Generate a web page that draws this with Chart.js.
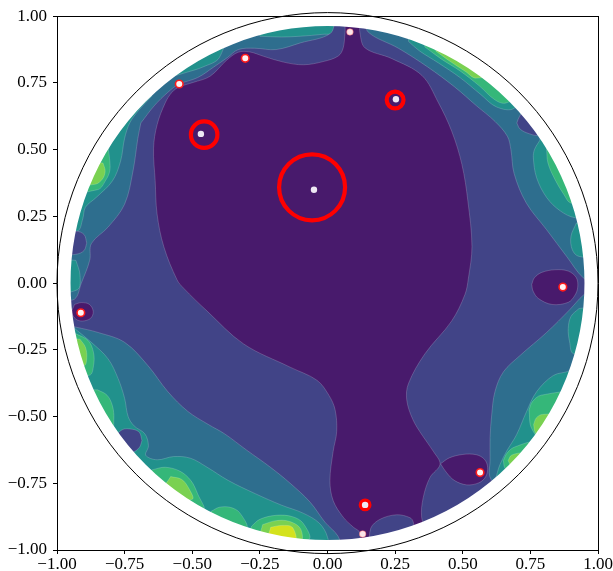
<!DOCTYPE html>
<html>
<head>
<meta charset="utf-8">
<script src="https://cdn.jsdelivr.net/npm/chart.js@4.4.1/dist/chart.umd.min.js"></script>
<style>
  html, body { margin: 0; padding: 0; background: #fff; }
  #wrap { width: 613px; height: 571px; }
</style>
</head>
<body>
<div id="wrap"><canvas id="chart"></canvas></div>
<script>
// axis ticks
const tickValues = [-1, -0.75, -0.5, -0.25, 0, 0.25, 0.5, 0.75, 1];
const tickLabels = ["−1.00", "−0.75", "−0.50", "−0.25", "0.00", "0.25", "0.50", "0.75", "1.00"];

// contour level colours (viridis), lowest level first
const levelColors = ["#481a6c", "#414487", "#2e6e8e", "#21918c", "#35b779", "#7ad151", "#d4e21d"];

// contour regions as [x, y] outlines
const baseSquare = [[-1, -1], [1, -1], [1, 1], [-1, 1], [-1, -1]];

const gtTop = [[-0.25, 0.925], [-0.17, 0.922], [-0.1, 0.925], [-0.02, 0.932], [0.04, 0.942], [0.05, 1.05], [-0.25, 1.05], [-0.25, 0.925]];
const gtTopLeft = [[-0.57, 0.775], [-0.52, 0.79], [-0.46, 0.81], [-0.4, 0.845], [-0.38, 0.95], [-0.6, 0.85], [-0.57, 0.775]];
const gtLeftUpper = [[-0.65, 0.7], [-0.7, 0.645], [-0.731, 0.6], [-0.75, 0.543], [-0.765, 0.457], [-0.795, 0.383], [-0.855, 0.321], [-0.895, 0.284], [-0.905, 0.24], [-0.925, 0.195], [-1.05, 0.19], [-1.05, 0.75], [-0.7, 0.76], [-0.65, 0.7]];
const gtLeftMid = [[-0.93, 0.085], [-0.915, 0.03], [-0.925, -0.025], [-1.05, -0.03], [-1.05, 0.09], [-0.93, 0.085]];
const gtLeftLower = [[-0.935, -0.17], [-0.873, -0.222], [-0.811, -0.284], [-0.774, -0.358], [-0.75, -0.432], [-0.737, -0.5], [-0.715, -0.535], [-0.675, -0.565], [-0.662, -0.61], [-0.672, -0.645], [-0.63, -0.662], [-0.569, -0.65], [-0.507, -0.656], [-0.445, -0.69], [-0.366, -0.74], [-0.267, -0.789], [-0.17, -0.832], [-0.09, -0.862], [-0.03, -0.9], [0.0, -0.952], [0.01, -1.05], [-1.05, -1.05], [-1.05, -0.17], [-0.935, -0.17]];
const gtTopRight = [[0.3, 0.905], [0.34, 0.87], [0.41, 0.825], [0.49, 0.77], [0.565, 0.708], [0.625, 0.66], [0.69, 0.655], [0.75, 0.75], [0.5, 1.05], [0.3, 1.05], [0.3, 0.905]];
const gtRightUpper = [[0.785, 0.535], [0.765, 0.5], [0.761, 0.469], [0.773, 0.395], [0.81, 0.321], [0.86, 0.271], [0.915, 0.245], [1.05, 0.24], [1.05, 0.6], [0.8, 0.6], [0.785, 0.535]];
const gtRightA = [[0.92, 0.225], [0.9, 0.175], [0.905, 0.125], [0.93, 0.1], [1.05, 0.1], [1.05, 0.25], [0.92, 0.225]];
const gtRightB = [[0.93, -0.095], [0.9, -0.125], [0.89, -0.17], [0.895, -0.22], [0.91, -0.265], [1.05, -0.27], [1.05, -0.09], [0.93, -0.095]];
const gtRightLower = [[0.905, -0.3], [0.896, -0.327], [0.835, -0.346], [0.773, -0.407], [0.736, -0.481], [0.699, -0.568], [0.662, -0.63], [0.638, -0.679], [0.628, -0.71], [0.62, -0.75], [0.65, -1.05], [1.05, -1.05], [1.05, -0.3], [0.905, -0.3]];

const greenTopRight = [[0.36, 0.885], [0.42, 0.84], [0.49, 0.795], [0.56, 0.74], [0.62, 0.686], [0.66, 0.675], [0.8, 0.75], [0.5, 1.0], [0.36, 1.0], [0.36, 0.885]];
const greenRightUpper = [[0.81, 0.5], [0.815, 0.45], [0.84, 0.39], [0.875, 0.33], [0.9, 0.3], [1.05, 0.29], [1.05, 0.55], [0.82, 0.55], [0.81, 0.5]];
const greenRightA = [[0.745, -0.475], [0.757, -0.445], [0.79, -0.42], [0.9, -0.42], [0.82, -0.62], [0.755, -0.545], [0.745, -0.475]];
const greenRightB = [[0.65, -0.665], [0.664, -0.637], [0.69, -0.615], [0.76, -0.6], [0.7, -0.73], [0.657, -0.695], [0.65, -0.665]];
const greenLeftA = [[-0.81, 0.5], [-0.805, 0.46], [-0.805, 0.42], [-0.82, 0.385], [-0.85, 0.35], [-1.05, 0.34], [-1.05, 0.55], [-0.8, 0.55], [-0.81, 0.5]];
const greenLeftB = [[-0.93, -0.19], [-0.885, -0.215], [-0.865, -0.26], [-0.865, -0.31], [-0.88, -0.345], [-1.05, -0.35], [-1.05, -0.19], [-0.93, -0.19]];
const greenLeftC = [[-0.85, -0.4], [-0.815, -0.42], [-0.795, -0.46], [-0.79, -0.51], [-0.8, -0.55], [-1.05, -0.55], [-1.05, -0.4], [-0.85, -0.4]];
const greenBottomA = [[-0.65, -0.7], [-0.6, -0.69], [-0.545, -0.705], [-0.505, -0.74], [-0.48, -0.79], [-0.46, -0.85], [-0.7, -0.8], [-0.65, -0.7]];
const greenBottomB = [[-0.43, -0.855], [-0.4, -0.84], [-0.36, -0.84], [-0.325, -0.86], [-0.3, -0.92], [-0.45, -0.92], [-0.43, -0.855]];
const greenBottomC = [[-0.28, -0.91], [-0.25, -0.885], [-0.19, -0.87], [-0.13, -0.875], [-0.09, -0.9], [-0.07, -0.96], [-0.3, -0.97], [-0.28, -0.91]];

const limeTopRight = [[0.4, 0.87], [0.45, 0.833], [0.51, 0.793], [0.55, 0.768], [0.65, 0.8], [0.45, 0.95], [0.4, 0.87]];
const limeRightA = [[0.762, -0.53], [0.772, -0.505], [0.795, -0.492], [0.85, -0.5], [0.8, -0.6], [0.768, -0.56], [0.762, -0.53]];
const limeRightB = [[0.668, -0.665], [0.68, -0.645], [0.72, -0.64], [0.69, -0.71], [0.668, -0.665]];
const limeLeftA = [[-0.83, 0.45], [-0.822, 0.42], [-0.832, 0.39], [-0.86, 0.37], [-1.0, 0.37], [-1.0, 0.46], [-0.83, 0.45]];
const limeLeftB = [[-0.915, -0.21], [-0.895, -0.24], [-0.89, -0.28], [-0.9, -0.31], [-1.0, -0.31], [-1.0, -0.21], [-0.915, -0.21]];
const limeBottomA = [[-0.58, -0.725], [-0.54, -0.735], [-0.515, -0.765], [-0.5, -0.81], [-0.62, -0.8], [-0.58, -0.725]];
const limeBottomC = [[-0.24, -0.905], [-0.19, -0.89], [-0.14, -0.893], [-0.1, -0.92], [-0.1, -0.97], [-0.25, -0.97], [-0.24, -0.905]];

const yellowBottomC = [[-0.21, -0.915], [-0.17, -0.908], [-0.13, -0.915], [-0.12, -0.97], [-0.22, -0.97], [-0.21, -0.915]];

const slateMain = [[-0.69, 0.6], [-0.64, 0.665], [-0.59, 0.715], [-0.55, 0.745], [-0.48, 0.77], [-0.42, 0.81], [-0.37, 0.845], [-0.33, 0.875], [-0.27, 0.88], [-0.19, 0.875], [-0.1, 0.9], [0.01, 0.935], [0.04, 1.0], [0.13, 1.0], [0.151, 0.94], [0.262, 0.88], [0.37, 0.81], [0.47, 0.735], [0.55, 0.665], [0.62, 0.605], [0.665, 0.55], [0.678, 0.5], [0.69, 0.41], [0.735, 0.3], [0.81, 0.2], [0.884, 0.1], [0.945, 0.02], [1.0, -0.01], [0.946, -0.045], [0.896, -0.099], [0.81, -0.185], [0.712, -0.271], [0.65, -0.333], [0.619, -0.407], [0.607, -0.494], [0.601, -0.58], [0.601, -0.667], [0.6, -0.725], [0.64, -0.8], [0.5, -1.05], [0.08, -1.05], [0.04, -0.95], [-0.01, -0.895], [-0.064, -0.821], [-0.138, -0.75], [-0.211, -0.69], [-0.3, -0.625], [-0.38, -0.565], [-0.44, -0.53], [-0.516, -0.481], [-0.59, -0.407], [-0.664, -0.309], [-0.75, -0.222], [-0.848, -0.185], [-0.93, -0.165], [-1.0, -0.15], [-1.0, -0.07], [-0.935, -0.06], [-0.91, 0.0], [-0.879, 0.086], [-0.873, 0.148], [-0.811, 0.21], [-0.75, 0.296], [-0.719, 0.42], [-0.701, 0.543], [-0.69, 0.6]];
const slateRightTop = [[0.7, 0.6], [0.71, 0.625], [0.74, 0.66], [0.82, 0.6], [0.78, 0.555], [0.745, 0.56], [0.712, 0.577], [0.7, 0.6]];
const slateLeft = [[-0.89, 0.15], [-0.9, 0.182], [-0.93, 0.195], [-1.0, 0.19], [-1.0, 0.11], [-0.93, 0.108], [-0.9, 0.122], [-0.89, 0.15]];
const slateLowerLeft = [[-0.686, -0.59], [-0.695, -0.56], [-0.72, -0.548], [-0.76, -0.55], [-0.8, -0.6], [-0.76, -0.645], [-0.72, -0.635], [-0.695, -0.615], [-0.686, -0.59]];

const purpleMain = [[0.065, 0.94], [0.07, 1.0], [0.115, 1.0], [0.12, 0.937], [0.139, 0.881], [0.238, 0.841], [0.349, 0.778], [0.409, 0.678], [0.46, 0.567], [0.497, 0.444], [0.519, 0.307], [0.534, 0.137], [0.521, 0.019], [0.508, -0.043], [0.459, -0.142], [0.36, -0.265], [0.299, -0.377], [0.293, -0.438], [0.315, -0.51], [0.35, -0.57], [0.391, -0.63], [0.416, -0.679], [0.379, -0.728], [0.354, -0.803], [0.348, -0.877], [0.37, -0.96], [0.33, -0.97], [0.317, -0.895], [0.305, -0.879], [0.256, -0.868], [0.194, -0.885], [0.16, -0.918], [0.15, -0.99], [0.12, -0.99], [0.12, -0.935], [0.095, -0.914], [0.058, -0.877], [0.021, -0.815], [0.009, -0.741], [0.021, -0.63], [0.034, -0.556], [0.028, -0.474], [0.005, -0.42], [-0.039, -0.364], [-0.138, -0.315], [-0.31, -0.228], [-0.445, -0.105], [-0.532, -0.019], [-0.556, 0.012], [-0.605, 0.136], [-0.63, 0.259], [-0.637, 0.383], [-0.643, 0.506], [-0.63, 0.593], [-0.6, 0.675], [-0.575, 0.715], [-0.548, 0.735], [-0.496, 0.752], [-0.434, 0.775], [-0.373, 0.835], [-0.33, 0.865], [-0.287, 0.866], [-0.237, 0.85], [-0.163, 0.828], [-0.089, 0.818], [-0.016, 0.83], [0.04, 0.851], [0.058, 0.881], [0.065, 0.94]];
const purpleRight = [[0.755, -0.005], [0.765, 0.02], [0.792, 0.04], [0.841, 0.05], [0.89, 0.045], [0.92, 0.02], [0.925, -0.015], [0.915, -0.045], [0.89, -0.072], [0.83, -0.08], [0.78, -0.058], [0.76, -0.03], [0.755, -0.005]];
const purpleLeft = [[-0.935, -0.08], [-0.91, -0.073], [-0.88, -0.08], [-0.866, -0.107], [-0.876, -0.132], [-0.905, -0.142], [-0.93, -0.135], [-0.945, -0.11], [-0.935, -0.08]];
const purpleLowerRight = [[0.418, -0.677], [0.45, -0.655], [0.5, -0.642], [0.55, -0.643], [0.58, -0.66], [0.592, -0.69], [0.585, -0.725], [0.56, -0.748], [0.515, -0.756], [0.47, -0.74], [0.44, -0.71], [0.418, -0.677]];

// markers
const interiorPts = [[-0.05, 0.35], [-0.468, 0.559], [0.253, 0.689], [0.139, -0.831]];
const edgePts = [[-0.304, 0.842], [-0.548, 0.746], [0.87, -0.015], [0.564, -0.71], [-0.912, -0.111]];
const rimPts = [[0.083, 0.941], [0.13, -0.94]];
const ringCenters = [[-0.057, 0.359], [-0.456, 0.556], [0.25, 0.686], [0.139, -0.831]];
const ringRadii = [0.122, 0.049, 0.031, 0.016];

// disk radii
const diskRadius = 0.95;
const unitRadius = 1.0;

const toXY = (arr) => arr.map(p => ({x: p[0], y: p[1]}));
const unitPx = (chart, r) => Math.abs(chart.scales.x.getPixelForValue(r) - chart.scales.x.getPixelForValue(0));

const regions = [
  [baseSquare, 2],
  [gtTop, 3], [gtTopLeft, 3], [gtLeftUpper, 3], [gtLeftMid, 3], [gtLeftLower, 3],
  [gtTopRight, 3], [gtRightUpper, 3], [gtRightA, 3], [gtRightB, 3], [gtRightLower, 3],
  [greenTopRight, 4], [greenRightUpper, 4], [greenRightA, 4], [greenRightB, 4],
  [greenLeftA, 4], [greenLeftB, 4], [greenLeftC, 4], [greenBottomA, 4], [greenBottomB, 4], [greenBottomC, 4],
  [limeTopRight, 5], [limeRightA, 5], [limeRightB, 5],
  [limeLeftA, 5], [limeLeftB, 5], [limeBottomA, 5], [limeBottomC, 5],
  [yellowBottomC, 6],
  [slateMain, 1], [slateRightTop, 1], [slateLeft, 1], [slateLowerLeft, 1],
  [purpleMain, 0], [purpleRight, 0], [purpleLeft, 0], [purpleLowerRight, 0]
];

// back-to-front list of datasets
let layers = regions.map(([pts, lvl], i) => ({
  data: toXY(pts),
  showLine: true,
  fill: 'shape',
  backgroundColor: levelColors[lvl],
  borderColor: i === 0 ? 'rgba(0,0,0,0)' : 'rgba(255,255,255,0.3)',
  borderWidth: i === 0 ? 0 : 0.6,
  tension: i === 0 ? 0 : 0.35,
  pointRadius: 0
}));

// white band outside the coloured disk
layers.push({
  data: [{x: 0, y: 0}],
  clip: 0,
  pointRadius: (c) => unitPx(c.chart, (diskRadius + 1.45) / 2),
  pointBorderWidth: (c) => unitPx(c.chart, 1.45 - diskRadius),
  pointBackgroundColor: 'rgba(0,0,0,0)',
  pointBorderColor: '#ffffff'
});
// unit circle
layers.push({
  data: [{x: 0, y: 0}],
  clip: false,
  pointRadius: (c) => unitPx(c.chart, unitRadius),
  pointBorderWidth: 1,
  pointBackgroundColor: 'rgba(0,0,0,0)',
  pointBorderColor: '#000000'
});
// red circles
layers.push({
  data: toXY(ringCenters),
  clip: false,
  pointRadius: (c) => unitPx(c.chart, ringRadii[c.dataIndex]),
  pointBorderWidth: 4.2,
  pointBackgroundColor: 'rgba(0,0,0,0)',
  pointBorderColor: '#ff0000'
});
layers.push({
  data: toXY(rimPts),
  pointRadius: 3.3,
  pointBorderWidth: 1,
  pointBackgroundColor: '#fbe4ea',
  pointBorderColor: 'rgba(255,90,90,0.45)'
});
layers.push({
  data: toXY(edgePts),
  pointRadius: 3.8,
  pointBorderWidth: 1.6,
  pointBackgroundColor: '#fff2f2',
  pointBorderColor: '#ff1a1a'
});
layers.push({
  data: toXY(interiorPts),
  pointRadius: 3.2,
  pointBorderWidth: 0,
  pointBackgroundColor: '#eee8f4',
  pointBorderColor: 'rgba(0,0,0,0)'
});

layers.forEach((d, i) => { d.order = layers.length - i; });

const tickFont = {family: "'Liberation Serif', 'Times New Roman', serif", size: 17};

new Chart(document.getElementById("chart"), {
  type: "scatter",
  data: {datasets: layers},
  options: {
    responsive: true,
    maintainAspectRatio: false,
    animation: false,
    events: [],
    layout: {padding: 0},
    plugins: {
      legend: {display: false},
      tooltip: {enabled: false}
    },
    scales: {
      x: {
        type: "linear",
        position: "bottom",
        min: -1,
        max: 1,
        afterBuildTicks: (s) => { s.ticks = tickValues.map(v => ({value: v})); },
        afterFit: (s) => { s.height = 21; },
        ticks: {
          callback: (v, i) => tickLabels[i],
          font: tickFont,
          color: "#000",
          padding: 0,
          maxRotation: 0,
          autoSkip: false
        },
        grid: {drawOnChartArea: false, tickLength: 4, color: "#000", z: 1},
        border: {color: "#000", width: 1, z: 1}
      },
      y: {
        type: "linear",
        position: "left",
        min: -1,
        max: 1,
        afterBuildTicks: (s) => { s.ticks = tickValues.map(v => ({value: v})); },
        afterFit: (s) => { s.width = 57; },
        ticks: {
          callback: (v, i) => tickLabels[i],
          font: tickFont,
          color: "#000",
          padding: 6,
          autoSkip: false
        },
        grid: {drawOnChartArea: false, tickLength: 4, color: "#000", z: 1},
        border: {color: "#000", width: 1, z: 1}
      },
      x2: {
        type: "linear",
        position: "top",
        min: -1,
        max: 1,
        afterFit: (s) => { s.height = 10; },
        ticks: {display: false},
        grid: {display: false, drawTicks: false},
        border: {color: "#000", width: 1, z: 1}
      },
      y2: {
        type: "linear",
        position: "right",
        min: -1,
        max: 1,
        afterFit: (s) => { s.width = 15; },
        ticks: {display: false},
        grid: {display: false, drawTicks: false},
        border: {color: "#000", width: 1, z: 1}
      }
    }
  }
});
</script>
</body>
</html>
